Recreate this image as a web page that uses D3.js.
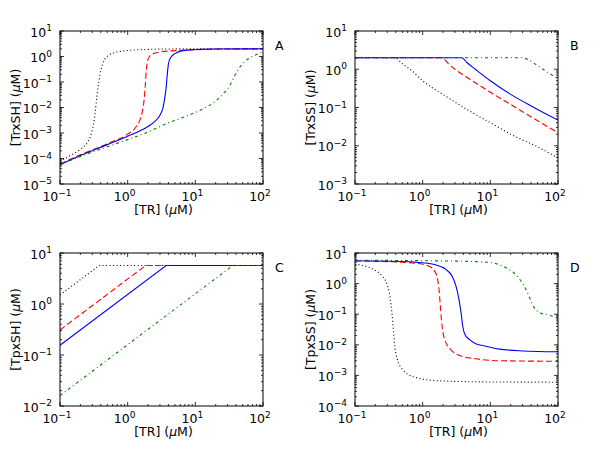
<!DOCTYPE html>
<html>
<head>
<meta charset="utf-8">
<script src="https://cdn.jsdelivr.net/npm/d3@7"></script>
<style>
  body { margin: 0; background: #fff; }
  svg { display: block; font-family: "DejaVu Sans", sans-serif; }
</style>
</head>
<body>
<div id="chart"></div>
<script>
// panel A: [TrxSH]
var aBlackX = [0.1, 0.15, 0.2, 0.25, 0.28, 0.31, 0.33, 0.35, 0.37, 0.39, 0.42, 0.46, 0.52, 0.6, 0.8, 1, 1.5, 3, 10, 100];
var aBlackY = [8e-5, 1.4e-4, 2.3e-4, 4e-4, 7e-4, 2e-3, 6e-3, 0.025, 0.08, 0.2, 0.45, 0.8, 1.1, 1.35, 1.6, 1.72, 1.85, 1.95, 2.0, 2.0];
var aRedX = [0.1, 0.2, 0.5, 1, 1.3, 1.5, 1.65, 1.75, 1.82, 1.88, 1.95, 2.1, 2.5, 3, 5, 10, 20, 100];
var aRedY = [6e-5, 1.4e-4, 3.8e-4, 9e-4, 1.6e-3, 3e-3, 7e-3, 0.02, 0.07, 0.25, 0.6, 1.0, 1.35, 1.5, 1.7, 1.85, 1.95, 2.0];
var aBlueX = [0.1, 0.2, 0.5, 1, 1.5, 2, 2.5, 3, 3.3, 3.5, 3.7, 3.85, 4.0, 4.3, 5, 6, 8, 12, 20, 100];
var aBlueY = [5.7e-5, 1.3e-4, 3.5e-4, 7.5e-4, 1.2e-3, 1.8e-3, 2.8e-3, 5e-3, 9e-3, 0.02, 0.06, 0.2, 0.5, 0.9, 1.3, 1.6, 1.8, 1.9, 1.97, 2.0];
var aGreenX = [0.1, 0.2, 0.5, 1, 2, 4, 8, 12, 20, 26, 32, 37, 42, 50, 60, 75, 100];
var aGreenY = [5.7e-5, 1.2e-4, 2.9e-4, 5.5e-4, 1.1e-3, 2.5e-3, 5e-3, 8e-3, 0.018, 0.035, 0.07, 0.15, 0.28, 0.52, 0.8, 1.1, 1.5];

// panel B: [TrxSS]
var bBlackX = [0.1, 0.39, 0.5, 0.7, 1, 2, 5, 10, 20, 50, 100];
var bBlackY = [2.0, 2.0, 1.4, 0.9, 0.5, 0.22, 0.08, 0.04, 0.02, 0.0093, 0.0048];
var bRedX = [0.1, 1.9, 2.5, 3, 5, 10, 20, 50, 100];
var bRedY = [2.0, 2.0, 1.3, 1.0, 0.55, 0.25, 0.12, 0.045, 0.022];
var bBlueX = [0.1, 3.8, 4.5, 6, 10, 20, 40, 70, 100];
var bBlueY = [2.0, 2.0, 1.5, 1.0, 0.5, 0.22, 0.11, 0.065, 0.047];
var bGreenX = [0.1, 28, 36, 45, 60, 80, 100];
var bGreenY = [2.0, 2.0, 1.8, 1.4, 1.0, 0.72, 0.57];

// panel C: [TpxSH]
var cBlackX = [0.1, 0.38, 100];
var cBlackY = [1.5, 5.7, 5.7];
var cRedX = [0.1, 1.85, 100];
var cRedY = [0.31, 5.7, 5.7];
var cBlueX = [0.1, 3.7, 100];
var cBlueY = [0.155, 5.7, 5.7];
var cGreenX = [0.1, 36, 100];
var cGreenY = [0.016, 5.7, 5.7];

// panel D: [TpxSS]
var dBlackX = [0.1, 0.15, 0.2, 0.25, 0.3, 0.33, 0.35, 0.37, 0.39, 0.42, 0.5, 0.6, 0.8, 1, 2, 10, 100];
var dBlackY = [4.3, 3.6, 2.7, 1.8, 0.9, 0.35, 0.12, 0.03, 0.008, 0.0035, 0.0016, 0.0011, 8.5e-4, 7.5e-4, 6.6e-4, 6.1e-4, 6e-4];
var dRedX = [0.1, 0.5, 1, 1.3, 1.5, 1.65, 1.75, 1.82, 1.9, 2.0, 2.2, 2.6, 3.5, 6, 15, 100];
var dRedY = [5.5, 5.0, 4.3, 3.5, 2.6, 1.5, 0.6, 0.2, 0.06, 0.025, 0.012, 0.007, 0.0045, 0.0035, 0.003, 0.0029];
var dBlueX = [0.1, 0.5, 1, 1.5, 2.2, 2.7, 3.1, 3.4, 3.7, 3.9, 4.2, 4.9, 6, 8, 13.6, 30, 100];
var dBlueY = [5.6, 5.3, 4.8, 4.2, 2.9, 1.8, 0.84, 0.35, 0.11, 0.042, 0.022, 0.015, 0.011, 0.0093, 0.0072, 0.0063, 0.0059];
var dGreenX = [0.1, 1, 5, 10, 17, 22, 27, 32, 38, 44, 55, 70, 100];
var dGreenY = [5.8, 5.6, 5.3, 4.9, 3.3, 2.3, 1.4, 0.8, 0.35, 0.17, 0.11, 0.095, 0.078];

var xDomain = [0.1, 100];
var panelLetters = ["A", "B", "C", "D"];
var yNames = ["TrxSH", "TrxSS", "TpxSH", "TpxSS"];
var yDomains = [[1e-5, 10], [1e-3, 10], [1e-2, 10], [1e-4, 10]];

var seriesStyle = [
  { color: "#000000", dash: "1,2.5" },
  { color: "#ff0000", dash: "6,3" },
  { color: "#0000ff", dash: null },
  { color: "#008000", dash: "3,3,1,3" }
];

var panelData = [
  [[aBlackX, aBlackY], [aRedX, aRedY], [aBlueX, aBlueY], [aGreenX, aGreenY]],
  [[bBlackX, bBlackY], [bRedX, bRedY], [bBlueX, bBlueY], [bGreenX, bGreenY]],
  [[cBlackX, cBlackY], [cRedX, cRedY], [cBlueX, cBlueY], [cGreenX, cGreenY]],
  [[dBlackX, dBlackY], [dRedX, dRedY], [dBlueX, dBlueY], [dGreenX, dGreenY]]
];

var width = 600, height = 453;
var colLeft = [60, 355], rowTop = [31, 253];
var pw = 203, ph = 153;

var svg = d3.select("#chart").append("svg")
    .attr("width", width)
    .attr("height", height);

function decades(domain) {
  var out = [];
  for (var e = Math.round(Math.log10(domain[0])); e <= Math.round(Math.log10(domain[1])); e++) out.push(e);
  return out;
}

function minors(domain) {
  var out = [];
  decades(domain).forEach(function(e) {
    for (var m = 2; m <= 9; m++) {
      var v = m * Math.pow(10, e);
      if (v < domain[1]) out.push(v);
    }
  });
  return out;
}

function powLabel(sel, e) {
  sel.append("tspan").text("10");
  sel.append("tspan").attr("dy", -5.5).attr("font-size", 9).text(e < 0 ? "\u2212" + (-e) : e);
}

panelLetters.forEach(function(letter, i) {
  var left = colLeft[i % 2], top = rowTop[Math.floor(i / 2)];
  var x = d3.scaleLog().domain(xDomain).range([0, pw]);
  var y = d3.scaleLog().domain(yDomains[i]).range([ph, 0]);

  var g = svg.append("g").attr("transform", "translate(" + left + "," + top + ")");

  g.append("clipPath").attr("id", "clip" + i)
    .append("rect").attr("width", pw).attr("height", ph);

  var line = d3.line()
      .x(function(d) { return x(d[0]); })
      .y(function(d) { return y(d[1]); })
      .curve(i === 2 ? d3.curveLinear : d3.curveMonotoneX);

  panelData[i].forEach(function(s, k) {
    var pts = s[0].map(function(v, j) { return [v, s[1][j]]; });
    var p = g.append("path")
        .attr("clip-path", "url(#clip" + i + ")")
        .attr("d", line(pts))
        .attr("fill", "none")
        .attr("stroke", seriesStyle[k].color)
        .attr("stroke-width", 1.1);
    if (seriesStyle[k].dash) p.attr("stroke-dasharray", seriesStyle[k].dash);
  });

  // ticks, inward on all four sides
  var tk = g.append("g").attr("stroke", "#000").attr("stroke-width", 0.8);
  var xMaj = decades(xDomain).map(function(e) { return Math.pow(10, e); });
  var yMaj = decades(yDomains[i]).map(function(e) { return Math.pow(10, e); });
  [[xMaj, 4], [minors(xDomain), 2]].forEach(function(t) {
    t[0].forEach(function(v) {
      tk.append("line").attr("x1", x(v)).attr("x2", x(v)).attr("y1", ph).attr("y2", ph - t[1]);
      tk.append("line").attr("x1", x(v)).attr("x2", x(v)).attr("y1", 0).attr("y2", t[1]);
    });
  });
  [[yMaj, 4], [minors(yDomains[i]), 2]].forEach(function(t) {
    t[0].forEach(function(v) {
      tk.append("line").attr("y1", y(v)).attr("y2", y(v)).attr("x1", 0).attr("x2", t[1]);
      tk.append("line").attr("y1", y(v)).attr("y2", y(v)).attr("x1", pw).attr("x2", pw - t[1]);
    });
  });

  g.append("rect").attr("width", pw).attr("height", ph)
    .attr("fill", "none").attr("stroke", "#000").attr("stroke-width", 1);

  // tick labels
  decades(xDomain).forEach(function(e) {
    var t = g.append("text").attr("x", x(Math.pow(10, e)) - 3).attr("y", ph + 17)
        .attr("text-anchor", "middle").attr("font-size", 12.5);
    powLabel(t, e);
  });
  decades(yDomains[i]).forEach(function(e) {
    var t = g.append("text").attr("x", -8).attr("y", y(Math.pow(10, e)) + 5.5)
        .attr("text-anchor", "end").attr("font-size", 12.5);
    powLabel(t, e);
  });

  var xl = g.append("text").attr("x", pw / 2 + 2).attr("y", ph + 30)
      .attr("text-anchor", "middle").attr("font-size", 12.5);
  xl.append("tspan").text("[TR] (");
  xl.append("tspan").attr("font-style", "italic").text("\u03bc");
  xl.append("tspan").text("M)");

  var yl = g.append("text")
      .attr("transform", "translate(-40," + (ph / 2) + ")rotate(-90)")
      .attr("text-anchor", "middle").attr("font-size", 12.5);
  yl.append("tspan").text("[" + yNames[i] + "] (");
  yl.append("tspan").attr("font-style", "italic").text("\u03bc");
  yl.append("tspan").text("M)");

  g.append("text").attr("x", pw + 12).attr("y", 19)
    .attr("font-size", 12.5).text(letter);
});
</script>
</body>
</html>
